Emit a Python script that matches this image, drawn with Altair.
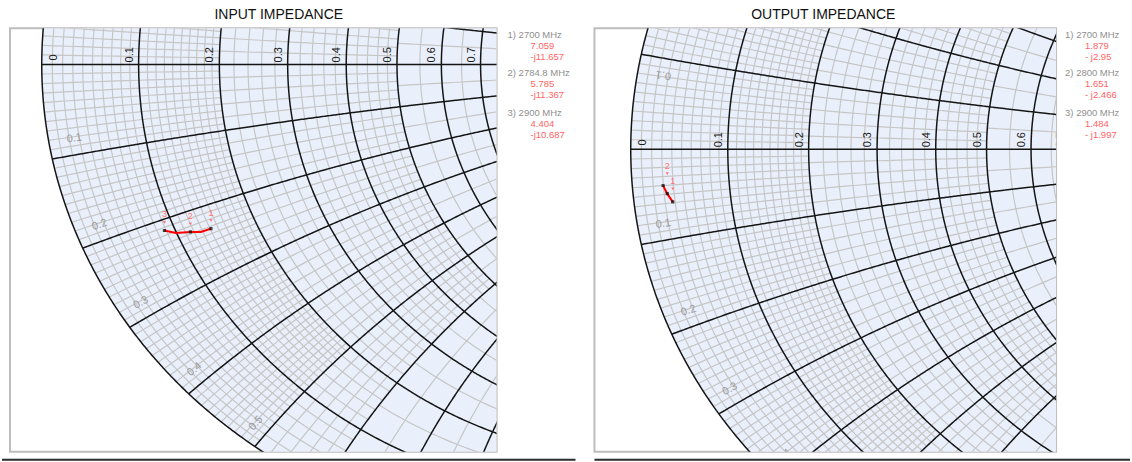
import math
import numpy as np
import pandas as pd
import altair as alt

alt.data_transformers.disable_max_rows()

# ---------------- data ----------------
Z0 = 50.0
in_freqs = ["2700 MHz", "2784.8 MHz", "2900 MHz"]
in_res = [7.059, 5.785, 4.404]
in_reac = [-11.657, -11.367, -10.687]
in_res_txt = ["7.059", "5.785", "4.404"]
in_reac_txt = ["-j11.657", "-j11.367", "-j10.687"]

out_freqs = ["2700 MHz", "2800 MHz", "2900 MHz"]
out_res = [1.879, 1.651, 1.484]
out_reac = [-2.95, -2.466, -1.997]
out_res_txt = ["1.879", "1.651", "1.484"]
out_reac_txt = ["- j2.95", "- j2.466", "- j1.997"]

# swept traces (reflection-coefficient plane), 2900 MHz end first
in_trace_gx = [-0.7698, -0.7484, -0.7211, -0.7015, -0.6830]
in_trace_gy = [-0.3477, -0.3529, -0.3506, -0.3508, -0.3440]
out_trace_gx = [-0.9394, -0.9317, -0.9213]
out_trace_gy = [-0.0752, -0.0922, -0.1093]

# Smith chart grid values
r_major = [0.0, 0.1, 0.2, 0.3, 0.4, 0.5, 0.6, 0.7, 0.8, 0.9, 1.0]
x_major = [0.1, 0.2, 0.3, 0.4, 0.5, 0.6, 0.7, 0.8, 0.9, 1.0, 1.2, 1.4]
r_label_vals = [0.1, 0.2, 0.3, 0.4, 0.5, 0.6, 0.7]
x_label_vals = [0.1, 0.2, 0.3, 0.4, 0.5, 0.6]
minor_steps = [0.01, 0.02, 0.05]
minor_r_limits = [0.2, 0.5, 1.0]
minor_x_limits = [0.5, 0.6, 1.5]

# ---------------- layout / style ----------------
FONT = "Liberation Sans"
PINK = "#ff7272"
PANELS = {
    "in": dict(xdom=[-1.0596, -0.14645], ydom=[-0.81109, 0.07594], w=487, h=424,
               title="INPUT IMPEDANCE", title_x=269, label_dy=[-16, -16, -16],
               rule_x=(-8, 566), legend_w=98, head_x=11, val_x=34),
    "out": dict(xdom=[-1.06796, -0.20311], ydom=[-0.62931, 0.25218], w=462, h=424,
                title="OUTPUT IMPEDANCE", title_x=229, label_dy=[-21, -28, None],
                rule_x=(0, 536), legend_w=76, head_x=9, val_x=29),
}
legend_group_pos = [0.6, 4.22, 7.99]


def gamma(z):
    return (z - 1) / (z + 1)


def step_for(v, limits):
    for lim, st in zip(limits, minor_steps):
        if v < lim - 1e-9:
            return st
    return 0.1


class Lines:
    def __init__(self, view, m=0.02):
        self.view = view
        self.m = m
        self.gx, self.gy, self.seg, self.o = [], [], [], []
        self.n = 0

    def add(self, gx, gy):
        x0, x1, y0, y1 = self.view
        m = self.m
        gx = np.asarray(gx); gy = np.asarray(gy)
        inside = (gx >= x0 - m) & (gx <= x1 + m) & (gy >= y0 - m) & (gy <= y1 + m)
        idx = np.flatnonzero(inside)
        if len(idx) == 0:
            return
        splits = np.where(np.diff(idx) > 1)[0]
        starts = np.r_[idx[0], idx[splits + 1]]
        ends = np.r_[idx[splits], idx[-1]]
        for s, e in zip(starts, ends):
            s2 = max(s - 1, 0); e2 = min(e + 1, len(gx) - 1)
            k = e2 - s2 + 1
            self.gx.append(gx[s2:e2 + 1]); self.gy.append(gy[s2:e2 + 1])
            self.seg.append(np.full(k, self.n)); self.o.append(np.arange(k))
            self.n += 1

    def df(self):
        return pd.DataFrame({"gx": np.round(np.concatenate(self.gx), 5),
                             "gy": np.round(np.concatenate(self.gy), 5),
                             "seg": np.concatenate(self.seg),
                             "o": np.concatenate(self.o)})


def build_grid(view):
    minor = Lines(view); major = Lines(view)
    t = np.linspace(0, 2 * np.pi, 1441)
    for r in r_major:
        c = r / (1 + r); rad = 1 / (1 + r)
        major.add(c + rad * np.cos(t), rad * np.sin(t))
    rr = np.linspace(0, 3, 1201)
    for xm in x_major:
        for s in (1, -1):
            g = gamma(rr + 1j * s * xm)
            major.add(g.real, g.imag)
    g = gamma(rr + 0j)
    major.add(g.real, g.imag)
    for i_r in range(10):
        r_lo = i_r / 10
        for i_x in range(13):
            x_lo = i_x / 10
            st = max(step_for(r_lo, minor_r_limits), step_for(x_lo, minor_x_limits))
            n = int(round(0.1 / st))
            xs = np.linspace(x_lo, x_lo + 0.1, 9)
            rs = np.linspace(r_lo, r_lo + 0.1, 9)
            for k in range(1, n):
                rm = r_lo + k * st
                xm = x_lo + k * st
                for s in (1, -1):
                    g = gamma(rm + 1j * s * xs)
                    minor.add(g.real, g.imag)
                    g = gamma(rs + 1j * s * xm)
                    minor.add(g.real, g.imag)
    return minor.df(), major.df()


def smith_panel(key, res, reac, trace_gx, trace_gy):
    P = PANELS[key]
    x0, x1 = P["xdom"]; y0, y1 = P["ydom"]
    W, H = P["w"], P["h"]
    sx = W / (x1 - x0); sy = H / (y1 - y0)
    view = (x0, x1, y0, y1)
    minor_df, major_df = build_grid(view)

    xsc = alt.Scale(domain=[x0, x1], nice=False, zero=False)
    ysc = alt.Scale(domain=[y0, y1], nice=False, zero=False)
    ex = alt.X("gx:Q", scale=xsc, axis=None)
    ey = alt.Y("gy:Q", scale=ysc, axis=None)

    layers = []
    phi = np.linspace(0, np.pi / 2, 400)
    fill_df = pd.DataFrame({"gx": -np.cos(phi), "gy": np.sin(phi), "gy2": -np.sin(phi)})
    layers.append(alt.Chart(fill_df).mark_area(color="#eaf0fb", clip=True)
                  .encode(x=ex, y=ey, y2="gy2:Q"))
    layers.append(alt.Chart(minor_df).mark_line(color="#c6c6c6", strokeWidth=1.2, clip=True)
                  .encode(x=ex, y=ey, detail="seg:N", order="o:Q"))
    layers.append(alt.Chart(major_df).mark_line(color="#151515", strokeWidth=1.5, clip=True)
                  .encode(x=ex, y=ey, detail="seg:N", order="o:Q"))

    # resistance labels along the real axis
    rl = pd.DataFrame({"gx": [(r - 1) / (r + 1) for r in r_label_vals],
                       "gy": 0.0, "t": [f"{r:g}" for r in r_label_vals]})
    layers.append(alt.Chart(rl).mark_text(angle=270, align="left", baseline="bottom", dx=2, dy=-4,
                                          font=FONT, fontSize=11, color="#1a1a1a", clip=True)
                  .encode(x=ex, y=ey, text="t:N"))
    r0 = pd.DataFrame({"gx": [-1.0], "gy": [0.0], "t": ["0"]})
    layers.append(alt.Chart(r0).mark_text(angle=270, align="left", baseline="top", dx=4, dy=6,
                                          font=FONT, fontSize=11, color="#1a1a1a", clip=True)
                  .encode(x=ex, y=ey, text="t:N"))

    # reactance labels near the outer circle
    rows = []
    for xv in x_label_vals:
        for s in (-1, 1):
            g = gamma(0.025 + 1j * s * (xv - 0.018))
            if not (x0 - 0.02 < g.real < x1 and y0 - 0.015 < g.imag < y1 + 0.015):
                continue
            if s < 0:
                ang = math.degrees(math.atan2(g.imag * sy, -g.real * sx)) % 360
            else:
                ang = math.degrees(math.atan2(-g.imag * sy, g.real * sx)) % 360
            rows.append({"gx": g.real, "gy": g.imag, "t": f"{xv:g}", "ang": round(ang, 2)})
    xl = pd.DataFrame(rows)
    layers.append(alt.Chart(xl).mark_text(align="center", baseline="middle", font=FONT, fontSize=11,
                                          color="#9c9c9c", clip=True)
                  .encode(x=ex, y=ey, text="t:N", angle=alt.Angle("ang:Q", scale=None)))

    # trace
    tr = pd.DataFrame({"gx": trace_gx, "gy": trace_gy, "o": list(range(len(trace_gx)))})
    layers.append(alt.Chart(tr).mark_line(color="#ff0000", strokeWidth=2, clip=True)
                  .encode(x=ex, y=ey, order="o:Q"))

    # markers
    gm = [gamma(complex(r, x) / Z0) for r, x in zip(res, reac)]
    mk = pd.DataFrame({"gx": [g.real for g in gm], "gy": [g.imag for g in gm],
                       "lab": [str(i + 1) for i in range(len(gm))]})
    layers.append(alt.Chart(mk).mark_square(color="#000000", size=10, clip=True)
                  .encode(x=ex, y=ey))
    for i, dy in enumerate(P["label_dy"]):
        if dy is None:
            continue
        one = mk.iloc[[i]]
        layers.append(alt.Chart(one).mark_text(dy=dy, font=FONT, fontSize=9, color=PINK,
                                               baseline="middle", align="center")
                      .encode(x=ex, y=ey, text="lab:N"))
        layers.append(alt.Chart(one).mark_point(shape="triangle-down", filled=True, size=10,
                                                color=PINK, opacity=1, yOffset=dy + 8)
                      .encode(x=ex, y=ey))

    # title, frame helpers
    layers.append(alt.Chart(pd.DataFrame({"t": [P["title"]]}))
                  .mark_text(align="center", baseline="alphabetic", font=FONT, fontSize=14, color="#111111")
                  .encode(x=alt.value(P["title_x"]), y=alt.value(-9), text="t:N"))
    one_row = pd.DataFrame({"a": [0]})
    layers.append(alt.Chart(one_row).mark_rule(color="#2b2b2b", strokeWidth=2)
                  .encode(x=alt.value(P["rule_x"][0]), x2=alt.value(P["rule_x"][1]),
                          y=alt.value(432), y2=alt.value(432)))
    layers.append(alt.Chart(one_row).mark_rule(color="#ffffff", strokeWidth=2)
                  .encode(x=alt.value(0), x2=alt.value(10), y=alt.value(-26), y2=alt.value(-26)))

    return alt.layer(*layers).properties(
        width=W, height=H, view=alt.ViewBackground(stroke="#bdbdbd", strokeWidth=2))


def legend_panel(key, freqs, re_txt, im_txt):
    P = PANELS[key]
    heads = pd.DataFrame({"t": [f"{i + 1}) {f}" for i, f in enumerate(freqs)],
                          "pos": legend_group_pos})
    vals = pd.DataFrame({"t": list(re_txt) + list(im_txt),
                         "pos": [p + 1.06 for p in legend_group_pos] + [p + 2.1 for p in legend_group_pos]})
    ysc = alt.Scale(domain=[0, 40], nice=False, zero=False, reverse=True)
    h = (alt.Chart(heads).mark_text(align="left", baseline="middle", font=FONT, fontSize=9.5, color="#8f8f8f")
         .encode(x=alt.value(P["head_x"]), y=alt.Y("pos:Q", scale=ysc, axis=None), text="t:N"))
    v = (alt.Chart(vals).mark_text(align="left", baseline="middle", font=FONT, fontSize=9.5, color="#ff6464")
         .encode(x=alt.value(P["val_x"]), y=alt.Y("pos:Q", scale=ysc, axis=None), text="t:N"))
    return alt.layer(h, v).properties(width=P["legend_w"], height=424)


p_in = smith_panel("in", in_res, in_reac, in_trace_gx, in_trace_gy)
p_out = smith_panel("out", out_res, out_reac, out_trace_gx, out_trace_gy)
l_in = legend_panel("in", in_freqs, in_res_txt, in_reac_txt)
l_out = legend_panel("out", out_freqs, out_res_txt, out_reac_txt)

chart = (alt.hconcat(p_in, l_in, p_out, l_out, spacing=0, bounds="flush")
         .properties(padding={"left": 0, "top": 0, "right": 0, "bottom": 0}, background="white")
         .configure_view(strokeWidth=0))

chart.save("out.html", embed_options={"renderer": "svg", "actions": False})
